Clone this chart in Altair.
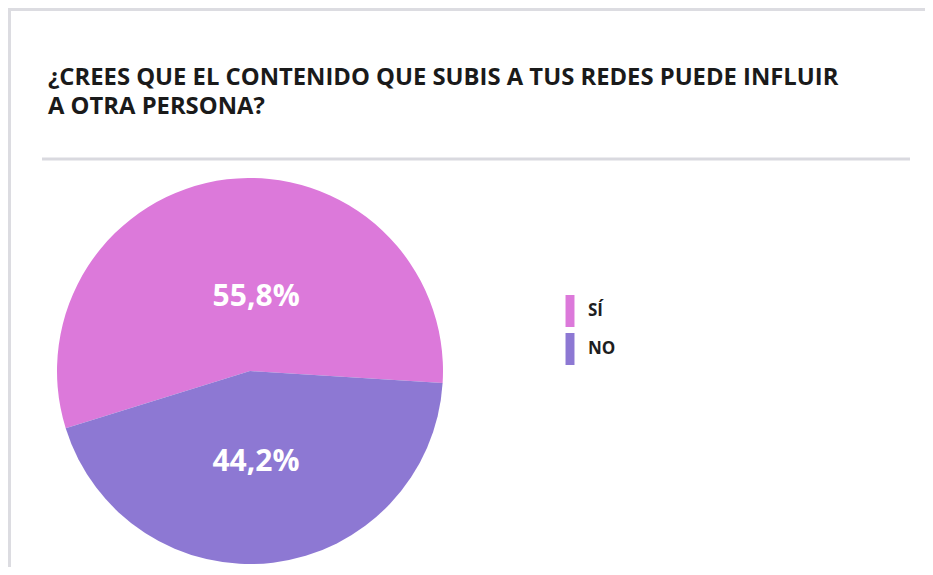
import math
import altair as alt
import pandas as pd

# ---- data ----
CATEGORIES = ["SÍ", "NO"]
VALUES = [55.8, 44.2]
LABELS = ["55,8%", "44,2%"]
STACK_ORDER = [1, 0]
COLORS = ["#DC79DA", "#8D78D3"]
TITLE = "¿CREES QUE EL CONTENIDO QUE SUBIS A TUS REDES PUEDE INFLUIR\nA OTRA PERSONA?"

FONT = "Open Sans"
df = pd.DataFrame({"cat": CATEGORIES, "value": VALUES, "label": LABELS, "ord": STACK_ORDER})

W, H = 917, 559
CX, CY, R = 242, 363, 193
start = math.radians(93.6)
theta_scale = alt.Scale(domain=[0, 100], range=[start, start + 2 * math.pi])

base = alt.Chart(df).encode(
    theta=alt.Theta("value:Q", stack=True, scale=theta_scale),
    order=alt.Order("ord:Q"),
)

pie = base.mark_arc(outerRadius=R, strokeWidth=0).encode(
    x=alt.value(CX),
    y=alt.value(CY),
    color=alt.Color(
        "cat:N",
        scale=alt.Scale(domain=CATEGORIES, range=COLORS),
        legend=alt.Legend(
            title=None,
            orient="none",
            legendX=546,
            legendY=287,
            symbolType="M-0.28,-1L0.28,-1L0.28,1L-0.28,1Z",
            symbolSize=1024,
            symbolStrokeWidth=0,
            symbolOpacity=1,
            rowPadding=6,
            labelFont=FONT,
            labelFontWeight="bold",
            labelFontSize=17,
            labelColor="#1e1e1e",
            labelOffset=2,
        ),
    ),
)


def pct_label(cat, radius, dx):
    return base.mark_text(
        radius=radius, dx=dx, font=FONT, fontSize=30, fontWeight="bold",
        color="white", align="center", baseline="middle",
    ).encode(
        x=alt.value(CX),
        y=alt.value(CY),
        text=alt.condition(f"datum.cat == '{cat}'", alt.Text("label:N"), alt.value("")),
    )


lab_si = pct_label("SÍ", 74.5, 15)
lab_no = pct_label("NO", 91.5, -5)

one = alt.Data(values=[{"t": TITLE}])

title = alt.Chart(one).mark_text(
    font=FONT, fontSize=23.8, fontWeight="bold", color="#1a1a1a",
    align="left", baseline="alphabetic", lineBreak="\n", lineHeight=29,
).encode(text="t:N", x=alt.value(40), y=alt.value(77))

sep = alt.Chart(one).mark_rule(color="#d9d9df", strokeWidth=3).encode(
    x=alt.value(34), x2=alt.value(902), y=alt.value(151)
)
frame_top = alt.Chart(one).mark_rule(color="#dcdce1", strokeWidth=3).encode(
    x=alt.value(0), x2=alt.value(W), y=alt.value(1.5)
)
frame_left = alt.Chart(one).mark_rule(color="#dcdce1", strokeWidth=3).encode(
    x=alt.value(1.5), y=alt.value(0), y2=alt.value(H)
)

chart = alt.layer(frame_top, frame_left, title, sep, pie, lab_si, lab_no).properties(
    width=W, height=H, padding=0,
    autosize=alt.AutoSizeParams(type="none"),
).configure_view(stroke=None)

chart.save("out.html", embed_options={"renderer": "svg", "actions": False})
